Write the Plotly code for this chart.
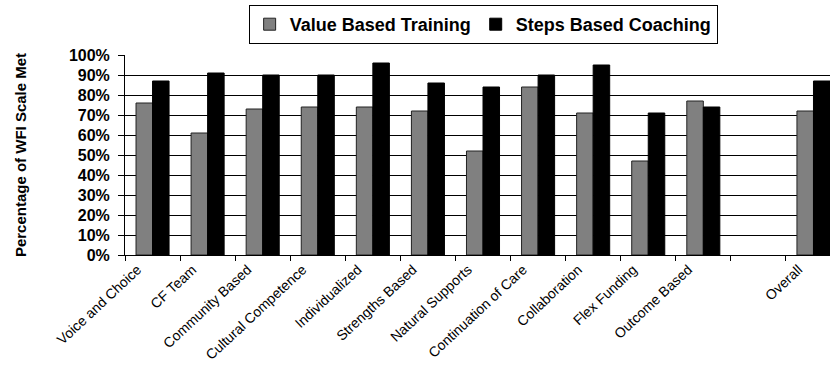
import plotly.graph_objects as go

# WFI principles, with a blank spacer slot before the overall score
categories = [
    "Voice and Choice", "CF Team", "Community Based", "Cultural Competence",
    "Individualized", "Strengths Based", "Natural Supports",
    "Continuation of Care", "Collaboration", "Flex Funding", "Outcome Based",
    " ", "Overall",
]
value_based_training = [76, 61, 73, 74, 74, 72, 52, 84, 71, 47, 77, None, 72]
steps_based_coaching = [87, 91, 90, 90, 96, 86, 84, 90, 95, 71, 74, None, 87]

y_ticks = list(range(0, 101, 10))
y_tick_labels = [f"{v}%" for v in y_ticks]

FONT = "Liberation Sans, Arial, sans-serif"

fig = go.Figure()
fig.add_trace(go.Bar(
    name="Value Based Training", x=categories, y=value_based_training,
    marker=dict(color="#808080", line=dict(color="#222222", width=1)),
))
fig.add_trace(go.Bar(
    name="Steps Based Coaching", x=categories, y=steps_based_coaching,
    marker=dict(color="#000000", line=dict(color="#000000", width=1)),
))

fig.update_layout(
    width=830, height=366,
    margin=dict(l=125, r=0, t=55, b=111),
    paper_bgcolor="white", plot_bgcolor="white",
    barmode="group", bargap=0.4, bargroupgap=0,
    font=dict(family=FONT, color="black"),
    legend=dict(
        orientation="h", x=0.508, xanchor="center", y=1.25, yanchor="top",
        bordercolor="black", borderwidth=1,
        font=dict(family=FONT, size=18, weight="bold"),
        itemwidth=30, tracegroupgap=0,
    ),
    showlegend=True,
)
fig.update_xaxes(
    type="category", categoryorder="array", categoryarray=categories,
    range=[-0.5, 12.3],
    tickson="boundaries", ticks="outside", ticklen=5, tickcolor="black",
    showline=True, linecolor="black", linewidth=1,
    showgrid=False, tickangle=-43, ticklabelshift=-15,
    tickfont=dict(family=FONT, size=14),
)
fig.update_yaxes(
    range=[0, 100], tickvals=y_ticks, ticktext=y_tick_labels,
    ticks="outside", ticklen=6, tickcolor="black",
    showline=True, linecolor="black", linewidth=1,
    showgrid=True, gridcolor="black", gridwidth=1,
    zeroline=False, ticklabelstandoff=5,
    tickfont=dict(family=FONT, size=16, weight="bold"),
    title=dict(text="Percentage of WFI Scale Met", standoff=38,
               font=dict(family=FONT, size=15, weight="bold")),
)

fig.write_html("out.html")
